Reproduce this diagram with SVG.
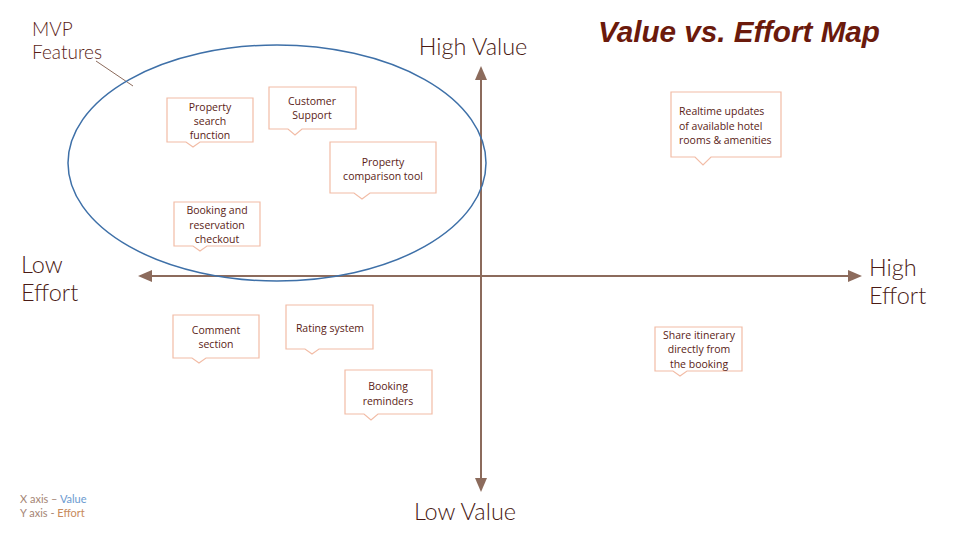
<svg xmlns="http://www.w3.org/2000/svg" width="960" height="540" viewBox="0 0 960 540">
<defs>
<style>
.box{fill:#fff;stroke:#f2bca6;stroke-width:1.2}
.bt{font-family:"Open Sans","Liberation Sans",sans-serif;font-size:10.5px;fill:#5a1c16;text-anchor:middle}
.bl{font-family:"Open Sans","Liberation Sans",sans-serif;font-size:10.5px;fill:#5a1c16;text-anchor:start}
.ax{font-family:"Lato","Noto Sans",sans-serif;font-size:23.5px;fill:#4a1a14;font-weight:300}
.axis{stroke:#8c6b5c;stroke-width:2;fill:none}
.head{fill:#8c6b5c}
</style>
</defs>
<rect width="960" height="540" fill="#fff"/>

<text x="598" y="42" font-family="Liberation Sans, sans-serif" font-weight="bold" font-style="italic" font-size="29" fill="#6b1a0c" textLength="282" lengthAdjust="spacingAndGlyphs">Value vs. Effort Map</text>

<g id="connectors">
<line class="axis" x1="481" y1="78" x2="481" y2="480"/>
<path class="head" d="M475,80 L481,66 L487,80 Z"/>
<path class="head" d="M475,478 L481,492 L487,478 Z"/>
<line class="axis" x1="150" y1="276" x2="850" y2="276"/>
<path class="head" d="M152,270 L138,276 L152,282 Z"/>
<path class="head" d="M848,270 L862,276 L848,282 Z"/>
<line x1="96" y1="61" x2="133" y2="86" stroke="#8c6b5c" stroke-width="1"/>
</g>

<g id="mvp-ellipse">
<ellipse cx="277" cy="163" rx="209" ry="118" fill="none" stroke="#3e70a8" stroke-width="1.5"/>
</g>

<g id="mvp-label">
<text x="32" y="36" font-family="Lato, Noto Sans, sans-serif" font-size="19" font-weight="300" fill="#5a1c16">MVP</text>
<text x="32" y="59" font-family="Lato, Noto Sans, sans-serif" font-size="19" font-weight="300" fill="#5a1c16">Features</text>
</g>

<g id="high-value"><text class="ax" x="473" y="55" text-anchor="middle">High Value</text></g>
<g id="low-value"><text class="ax" x="465" y="520" text-anchor="middle">Low Value</text></g>
<g id="low-effort"><text class="ax" x="21" y="273">Low</text><text class="ax" x="21" y="301">Effort</text></g>
<g id="high-effort"><text class="ax" x="869" y="276">High</text><text class="ax" x="869" y="304">Effort</text></g>

<g id="n-property-search">
<path class="box" d="M167,98 H253 V142 H200 L193,147 L186,142 H167 Z"/>
<text class="bt" x="210" y="111">Property</text>
<text class="bt" x="210" y="125">search</text>
<text class="bt" x="210" y="139">function</text>
</g>

<g id="n-customer-support">
<path class="box" d="M269,87 H356 V129 H302 L295,135 L288,129 H269 Z"/>
<text class="bt" x="312" y="105">Customer</text>
<text class="bt" x="312" y="119">Support</text>
</g>

<g id="n-property-comparison">
<path class="box" d="M330,142 H436 V193 H370 L362,199 L354,193 H330 Z"/>
<text class="bt" x="383" y="166">Property</text>
<text class="bt" x="383" y="180">comparison tool</text>
</g>

<g id="n-booking-checkout">
<path class="box" d="M174,202 H260 V246 H207 L200,251 L193,246 H174 Z"/>
<text class="bt" x="217" y="214">Booking and</text>
<text class="bt" x="217" y="229">reservation</text>
<text class="bt" x="217" y="243">checkout</text>
</g>

<g id="n-realtime">
<path class="box" d="M671,92 H781 V157 H711 L703,165 L695,157 H671 Z"/>
<text class="bl" x="679" y="115">Realtime updates</text>
<text class="bl" x="679" y="130">of available hotel</text>
<text class="bl" x="679" y="144">rooms &amp; amenities</text>
</g>

<g id="n-comment">
<path class="box" d="M173,315 H259 V358 H206 L199,363 L192,358 H173 Z"/>
<text class="bt" x="216" y="334">Comment</text>
<text class="bt" x="216" y="348">section</text>
</g>

<g id="n-rating">
<path class="box" d="M286,305 H373 V349 H319 L312,354 L305,349 H286 Z"/>
<text class="bt" x="330" y="332">Rating system</text>
</g>

<g id="n-booking-reminders">
<path class="box" d="M345,370 H432 V414 H378 L371,420 L364,414 H345 Z"/>
<text class="bt" x="388" y="390">Booking</text>
<text class="bt" x="388" y="405">reminders</text>
</g>

<g id="n-share-itinerary">
<path class="box" d="M655,327 H742 V371 H687 L680,376 L673,371 H655 Z"/>
<text class="bt" x="699" y="339" font-size="10">Share itinerary</text>
<text class="bt" x="699" y="353" font-size="10">directly from</text>
<text class="bt" x="699" y="368" font-size="10">the booking</text>
</g>

<g id="legend" font-family="Lato, Noto Sans, sans-serif" font-size="11">
<text x="20" y="503" fill="#a58575">X axis – <tspan fill="#6a9ad0">Value</tspan></text>
<text x="20" y="517" fill="#a58575">Y axis - <tspan fill="#c88b5c">Effort</tspan></text>
</g>
</svg>
